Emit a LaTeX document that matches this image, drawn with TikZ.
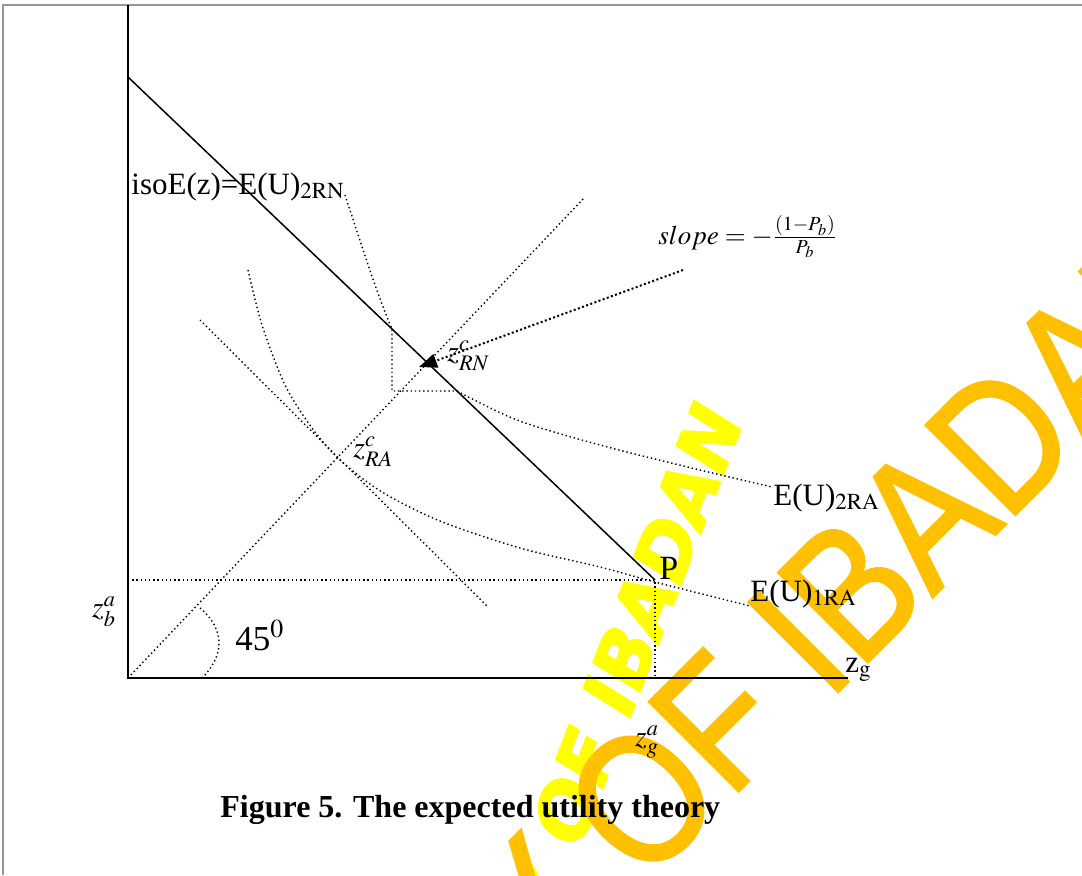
\documentclass[tikz,border=0pt]{standalone}
\usepackage{mathptmx}
\usepackage{fontspec}
\setmainfont{Liberation Serif}
\newfontfamily\wmfont[FakeBold=1.5]{Liberation Sans}
\newfontfamily\wmfontheavy[FakeBold=2.5]{DejaVu Sans}
\usepackage{graphicx}
\usetikzlibrary{arrows.meta}
\definecolor{wmorange}{RGB}{255,192,0}
\definecolor{wmyellow}{RGB}{255,255,0}
\definecolor{pagegray}{RGB}{150,150,150}
\tikzset{
  axisline/.style={black, line width=1pt},
  isoline/.style={black, line width=0.75pt},
  dotline/.style={black, line width=0.7pt, dash pattern=on 0.7pt off 1.4pt},
  slopeline/.style={black, line width=1pt, dash pattern=on 1pt off 1.2pt,
                    -{Triangle[length=9pt,width=7pt]}},
  lbl/.style={font=\fontsize{15.5}{17}\selectfont, inner sep=0pt},
  mlbl/.style={font=\fontsize{15}{17}\selectfont, inner sep=0pt},
  wmark/.style={inner sep=0pt, anchor=base east},
}

\begin{document}
\begin{tikzpicture}[x=0.5pt, y=-0.5pt]
  \useasboundingbox (0,0) rectangle (1082,875);
  % watermark
  \begin{scope}
    \clip (0,0) rectangle (1082,875);
    \node[wmark, rotate=69, text=wmyellow] (wmsmall) at (745,418)
         {\fontsize{37}{37}\selectfont\wmfontheavy\bfseries\itshape UNIVERSITY OF IBADAN};
    \node[wmark, rotate=45, text=wmorange] (wmbig) at (1240,290)
         {\scalebox{0.85}[1]{\fontsize{92}{92}\selectfont\wmfont UNIVERSITY OF IBADAN}};
  \end{scope}
  \draw[pagegray, line width=1.2pt] (3,875) -- (3,5) -- (1082,5);

  % points
  \coordinate (O) at (128,678);
  \coordinate (ytop) at (128,5);
  \coordinate (xend) at (848,678);
  \coordinate (isotop) at (128,77);
  \coordinate (P) at (655,580);
  \coordinate (diagend) at (585,197);
  \coordinate (zbP) at (128,580);
  \coordinate (zgP) at (655,678);
  \coordinate (slopestart) at (683,270);
  \coordinate (zRN) at (419,367);
  \coordinate (tanA) at (200,320);
  \coordinate (tanB) at (488,607);

  % axes and isoline
  \draw[axisline] (ytop) -- (O) -- (xend);
  \draw[isoline] (isotop) -- (P);

  % dotted guides
  \draw[dotline] (O) -- (diagend);
  \draw[dotline] (zbP) -- (P) -- (zgP);
  \draw[dotline] (tanA) -- (tanB);
  \draw[dotline] (200,608) .. controls (226,630) and (224,656) .. (202,678);
  \draw[slopeline] (slopestart) -- (zRN);

  % indifference curves
  \draw[dotline] (345,195) .. controls (360,240) and (376,292) .. (392,329)
                 -- (392,391) -- (457,391)
                 plot[smooth] coordinates {(457,391) (517,420) (600,445) (700,470) (772,487)};
  \draw[dotline] plot[smooth] coordinates {(248,270) (262,325) (285,385) (312,428) (340,460)
                 (382,492) (440,521) (520,548) (600,567) (655,582) (750,606)};

  % labels
  \node[lbl, anchor=base west] (isolbl) at (131,194) {isoE(z)=E(U)$_{\mathrm{2RN}}$};
  \node[inner sep=0pt, anchor=west, font=\fontsize{13.5}{15}\selectfont]
       (slopelbl) at (658,237) {$slope=-\frac{(1-P_b)}{P_b}$};
  \node[mlbl, anchor=west] (zrnlbl) at (447,356) {$z^{c}_{RN}$};
  \node[mlbl, anchor=west] (zralbl) at (353,452) {$z^{c}_{RA}$};
  \node[lbl, anchor=base west] (eu2lbl) at (773,505) {E(U)$_{\mathrm{2RA}}$};
  \node[inner sep=0pt, anchor=base west, font=\fontsize{17}{19}\selectfont]
       (plbl) at (659,579) {P};
  \node[lbl, anchor=base west] (eu1lbl) at (750,601) {E(U)$_{\mathrm{1RA}}$};
  \node[lbl, anchor=base west] (zglbl) at (845,672) {z$_{\mathrm{g}}$};
  \node[mlbl] (zbalbl) at (104,612) {$z^{a}_{b}$};
  \node[inner sep=0pt, anchor=base west, font=\fontsize{17.5}{19}\selectfont]
       (anglbl) at (235,650) {45$^{0}$};
  \node[mlbl] (zgalbl) at (647,742) {$z^{a}_{g}$};
  \node[inner sep=0pt, anchor=base west, font=\fontsize{16}{18}\selectfont\bfseries]
       (caption) at (220,817) {Figure 5. The expected utility theory};
\end{tikzpicture}
\end{document}
